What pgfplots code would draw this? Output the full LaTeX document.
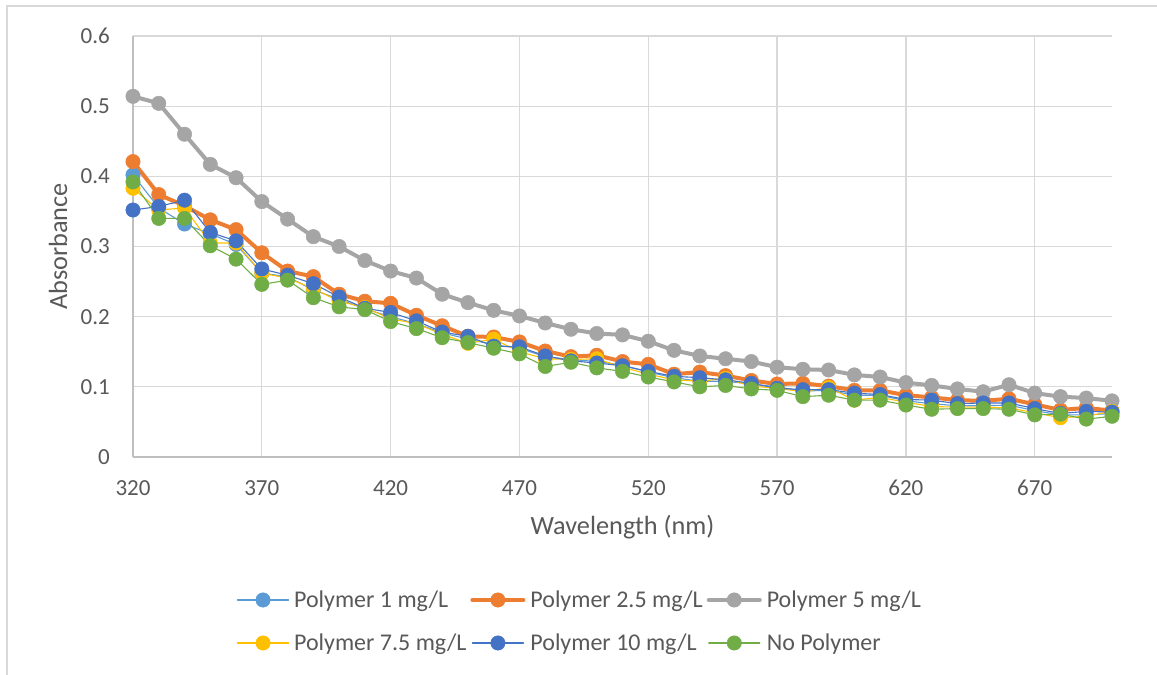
\documentclass[border=0pt]{standalone}
\usepackage{fontspec}
\setmainfont{Carlito}
\usepackage{pgfplots}
\usepackage{pgfplotstable}
\pgfplotsset{compat=1.18}
\definecolor{sA}{HTML}{5B9BD5}
\definecolor{sB}{HTML}{ED7D31}
\definecolor{sC}{HTML}{A5A5A5}
\definecolor{sD}{HTML}{FFC000}
\definecolor{sE}{HTML}{4472C4}
\definecolor{sF}{HTML}{70AD47}
\definecolor{txt}{HTML}{595959}
\definecolor{gridc}{HTML}{D9D9D9}
\definecolor{axl}{HTML}{BFBFBF}
\pgfplotstableread{
wl   p1    p25   p5    p75   p10   p0
320  0.402 0.421 0.514 0.383 0.352 0.392
330  0.355 0.374 0.504 0.352 0.357 0.340
340  0.332 0.358 0.460 0.355 0.366 0.340
350  0.318 0.338 0.417 0.305 0.320 0.301
360  0.303 0.324 0.398 0.305 0.308 0.282
370  0.262 0.291 0.364 0.262 0.268 0.246
380  0.257 0.265 0.339 0.255 0.259 0.252
390  0.238 0.257 0.314 0.240 0.247 0.227
400  0.225 0.232 0.300 0.222 0.228 0.214
410  0.211 0.222 0.280 0.213 0.212 0.210
420  0.200 0.219 0.265 0.197 0.206 0.193
430  0.190 0.202 0.255 0.190 0.194 0.183
440  0.177 0.187 0.232 0.175 0.178 0.170
450  0.168 0.172 0.220 0.162 0.172 0.163
460  0.160 0.171 0.209 0.168 0.158 0.155
470  0.155 0.164 0.201 0.150 0.157 0.147
480  0.143 0.151 0.191 0.140 0.144 0.129
490  0.139 0.143 0.182 0.139 0.137 0.135
500  0.136 0.145 0.176 0.140 0.134 0.127
510  0.131 0.136 0.174 0.128 0.130 0.122
520  0.121 0.132 0.165 0.118 0.122 0.114
530  0.113 0.118 0.152 0.110 0.115 0.107
540  0.108 0.121 0.144 0.108 0.113 0.100
550  0.108 0.116 0.140 0.112 0.110 0.102
560  0.104 0.109 0.136 0.101 0.105 0.097
570  0.100 0.104 0.128 0.098 0.098 0.095
580  0.094 0.105 0.125 0.093 0.096 0.086
590  0.095 0.101 0.124 0.099 0.096 0.088
600  0.088 0.095 0.117 0.081 0.091 0.081
610  0.088 0.095 0.114 0.085 0.089 0.081
620  0.080 0.088 0.106 0.078 0.082 0.074
630  0.076 0.085 0.102 0.072 0.081 0.068
640  0.073 0.081 0.097 0.071 0.076 0.069
650  0.073 0.080 0.093 0.071 0.077 0.069
660  0.074 0.083 0.103 0.070 0.077 0.068
670  0.066 0.075 0.091 0.063 0.069 0.060
680  0.060 0.067 0.086 0.056 0.062 0.061
690  0.060 0.070 0.084 0.058 0.065 0.054
700  0.062 0.066 0.080 0.065 0.064 0.058
}\datatable
\begin{document}
\begin{tikzpicture}[x=1bp,y=1bp]
\useasboundingbox (0,0) rectangle (1157,675);
\fill[white] (0,0) rectangle (1157,675);
\draw[gridc, line width=1.2bp] (7,0) -- (7,669) -- (1157,669);
\begin{axis}[
  at={(133bp,218bp)}, anchor=south west,
  scale only axis, width=979bp, height=421bp,
  xmin=320, xmax=700, ymin=0, ymax=0.6,
  xtick={320,370,420,470,520,570,620,670},
  ytick={0,0.1,0.2,0.3,0.4,0.5,0.6},
  axis lines*=left,
  axis line style={draw=axl, line width=1.2bp, -},
  grid=major,
  major grid style={draw=gridc, line width=1.2bp},
  major tick length=0pt,
  clip=false,
  /pgf/number format/assume math mode=true,
  ticklabel style={font=\fontsize{23bp}{28bp}\selectfont, text=txt},
  xticklabel style={anchor=base, inner sep=0pt, yshift=-39bp},
  yticklabel style={anchor=east, inner sep=0pt, xshift=-23bp},
  xlabel={Wavelength (nm)},
  ylabel={Absorbance},
  every axis x label/.style={at={(axis description cs:0.5,-0.167)}, anchor=center, font=\fontsize{26.3bp}{31bp}\selectfont, text=txt},
  every axis y label/.style={at={(axis description cs:-0.0766,0.5)}, anchor=center, rotate=90, font=\fontsize{26.3bp}{31bp}\selectfont, text=txt},
  legend columns=3,
  legend cell align=left,
  legend style={at={(axis description cs:0.1062,-0.3147)}, anchor=north west,
    draw=none, fill=none, inner sep=0pt, outer sep=0pt,
    font=\fontsize{24bp}{29bp}\selectfont, text=txt, row sep=22bp,
    nodes={inner xsep=0pt, inner ysep=0pt, text height=18bp, text depth=3bp},
    /tikz/every odd column/.append style={column sep=5bp},
    /tikz/every even column/.append style={column sep=4bp}},
  legend image code/.code={\draw[mark repeat=2,mark phase=2,#1] plot coordinates {(0bp,0bp) (25.5bp,0bp) (51bp,0bp)};},
  every axis plot/.append style={line join=round, line cap=round, mark=*, mark size=7.2bp},
]
\addplot[sA, line width=1.1bp, mark options={fill=sA, draw=sA, line width=0.5bp}] table[x=wl,y=p1]{\datatable};
\addlegendentry{Polymer 1 mg/L}
\addplot[sB, line width=4bp, mark options={fill=sB, draw=sB, line width=0.5bp}] table[x=wl,y=p25]{\datatable};
\addlegendentry{Polymer 2.5 mg/L}
\addplot[sC, line width=4bp, mark options={fill=sC, draw=sC, line width=0.5bp}] table[x=wl,y=p5]{\datatable};
\addlegendentry{Polymer 5 mg/L}
\addplot[sD, line width=1.1bp, mark options={fill=sD, draw=sD, line width=0.5bp}] table[x=wl,y=p75]{\datatable};
\addlegendentry{Polymer 7.5 mg/L}
\addplot[sE, line width=1.1bp, mark options={fill=sE, draw=sE, line width=0.5bp}] table[x=wl,y=p10]{\datatable};
\addlegendentry{Polymer 10 mg/L}
\addplot[sF, line width=1.1bp, mark options={fill=sF, draw=sF, line width=0.5bp}] table[x=wl,y=p0]{\datatable};
\addlegendentry{No Polymer}
\end{axis}
\end{tikzpicture}
\end{document}
